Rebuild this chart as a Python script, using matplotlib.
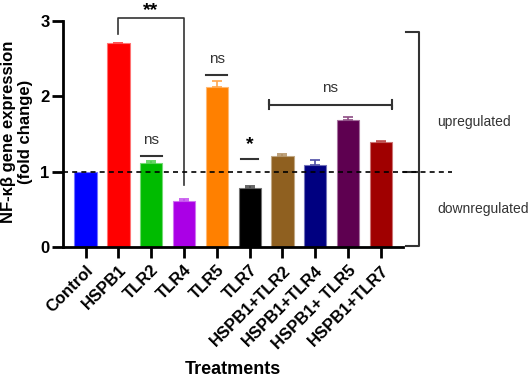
import numpy as np
import matplotlib
matplotlib.use("Agg")
import matplotlib.pyplot as plt
from matplotlib.colors import to_rgb

plt.rcParams['font.family'] = ['Liberation Sans', 'DejaVu Sans']

treatments = ["Control", "HSPB1", "TLR2", "TLR4", "TLR5", "TLR7",
              "HSPB1+TLR2", "HSPB1+TLR4", "HSPB1+ TLR5", "HSPB1+TLR7"]
fold_change = [1.00, 2.70, 1.11, 0.61, 2.12, 0.79, 1.21, 1.09, 1.69, 1.39]
error_up = [0.0, 0.01, 0.03, 0.03, 0.08, 0.02, 0.03, 0.07, 0.03, 0.02]
bar_colors = ["#0000ff", "#ff0000", "#00bb00", "#aa00e6", "#ff8000",
              "#000000", "#8f6020", "#000080", "#5e0050", "#a00000"]


def tint(c, amount=0.45):
    r, g, b = to_rgb(c)
    return (r + (1 - r) * amount, g + (1 - g) * amount, b + (1 - b) * amount)


fig = plt.figure(figsize=(5.29, 3.80), dpi=100)
ax = fig.add_axes([0.1197, 0.3492, 0.6427, 0.5963])

x = np.arange(len(treatments))
ax.bar(x, fold_change, width=0.68, color=bar_colors,
       edgecolor=[tint(c) for c in bar_colors], linewidth=0.8, zorder=2)
for i in range(len(x)):
    if error_up[i] > 0:
        ax.errorbar(x[i], fold_change[i], yerr=[[0], [error_up[i]]], fmt='none',
                    ecolor=tint(bar_colors[i], 0.3), elinewidth=1.2, capsize=3.5,
                    capthick=1.2, zorder=3)

ax.set_xlim(-0.676, 9.68)
ax.set_ylim(0, 3)
ax.set_yticks([0, 1, 2, 3])
ax.set_xticks(x)
ax.set_xticklabels(treatments, rotation=45, ha='right', rotation_mode='anchor',
                   fontsize=12, fontweight='bold')
for lab in ax.get_yticklabels():
    lab.set_fontweight('bold')
    lab.set_fontsize(12)
ax.tick_params(axis='both', direction='out', length=8, width=2, color='black')
ax.tick_params(axis='x', pad=3)
ax.tick_params(axis='y', pad=2)
for s in ['top', 'right']:
    ax.spines[s].set_visible(False)
for s in ['left', 'bottom']:
    ax.spines[s].set_linewidth(2)

# axis titles
fig.text(17 / 529, 1 - 132 / 380, "NF-κβ gene expression\n(fold change)",
         rotation=90, ha='center', va='center', fontsize=12, fontweight='bold',
         linespacing=1.15, multialignment='center')
fig.text(0.44, 0.004, "Treatments", ha='center', va='bottom', fontsize=13,
         fontweight='bold')

# dashed baseline at 1
ax.plot([-0.676, 11.16], [1, 1], color='black', lw=1.2, ls=(0, (3, 2.5)),
        clip_on=False, zorder=4)

# right bracket up/down
grey = '#333333'
ax.plot([9.76, 10.16, 10.16, 9.76], [2.85, 2.85, 0.02, 0.02], color=grey,
        lw=1.5, clip_on=False)
ax.plot([9.70, 10.16], [1, 1], color=grey, lw=1.5, clip_on=False)
ax.text(10.71, 1.66, "upregulated", fontsize=10, color=grey, va='center',
        ha='left', clip_on=False)
ax.text(10.71, 0.51, "downregulated", fontsize=10, color=grey, va='center',
        ha='left', clip_on=False)

# significance marks
ax.plot([1, 1, 3, 3], [2.83, 3.03, 3.03, 0.83], color=grey, lw=1.2, clip_on=False)
ax.text(1.97, 3.08, "**", fontsize=14, fontweight='bold', ha='center',
        va='baseline', clip_on=False)

ax.plot([1.68, 2.32], [1.21, 1.21], color=grey, lw=1.5)
ax.text(2, 1.33, "ns", fontsize=11, color=grey, ha='center', va='bottom')

ax.plot([3.68, 4.32], [2.28, 2.28], color=grey, lw=1.5)
ax.text(4, 2.40, "ns", fontsize=11, color=grey, ha='center', va='bottom')

ax.plot([4.73, 5.25], [1.17, 1.17], color=grey, lw=1.5)
ax.text(5, 1.25, "*", fontsize=14, fontweight='bold', ha='center', va='bottom')

ax.plot([5.60, 5.60, 5.60, 9.33, 9.33, 9.33], [1.83, 1.95, 1.89, 1.89, 1.83, 1.95],
        color=grey, lw=1.5)
ax.text(7.45, 2.01, "ns", fontsize=11, color=grey, ha='center', va='bottom')

fig.savefig("out.png", dpi=100)
